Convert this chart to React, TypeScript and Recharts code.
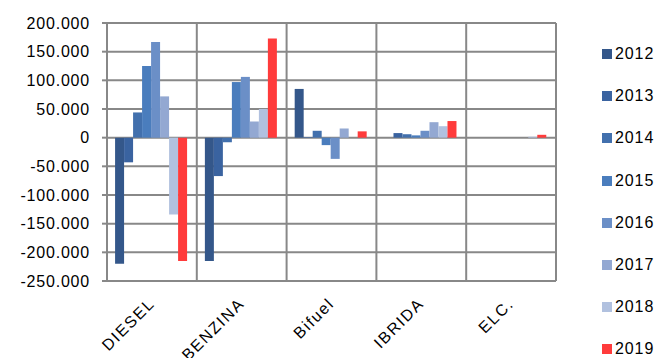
import React from 'react';
import { BarChart, Bar, XAxis, YAxis, CartesianGrid } from 'recharts';

const categories = ['DIESEL', 'BENZINA', 'Bifuel', 'IBRIDA', 'ELC.'];
const years = ['2012', '2013', '2014', '2015', '2016', '2017', '2018', '2019'];
const colors = ['#34578a', '#3a63a0', '#4270ad', '#4a7dbd', '#6b8fc7', '#93a8d2', '#b1c1df', '#ff3b3b'];

const v2012 = [-220000, -215000, 85000, 0, 0];
const v2013 = [-43000, -67000, 1000, 8000, 0];
const v2014 = [44000, -8000, 12000, 6000, 0];
const v2015 = [125000, 97000, -13000, 4000, 0];
const v2016 = [167000, 106000, -37000, 12000, 0];
const v2017 = [72000, 28000, 16000, 27000, 0];
const v2018 = [-134000, 50000, 0, 20000, 1500];
const v2019 = [-215000, 173000, 11000, 29000, 5000];

const yTicks = [200000, 150000, 100000, 50000, 0, -50000, -100000, -150000, -200000, -250000];

const series = [v2012, v2013, v2014, v2015, v2016, v2017, v2018, v2019];
const data = categories.map((name, i) => {
  const row: Record<string, any> = { name };
  years.forEach((y, k) => { row[y] = series[k][i]; });
  return row;
});

const FONT = '"Liberation Sans", Arial, sans-serif';
const GRID = '#888888';

const fmt = (v: number) => (v === 0 ? '0' : v.toLocaleString('de-DE'));

function CatTick({ x, y, payload }: any) {
  return (
    <g transform={`translate(${x - 2},${y + 10})`}>
      <text
        x={0}
        y={0}
        dy={8}
        textAnchor="end"
        transform="rotate(-45)"
        fill="#000"
        fontSize={16}
        fontFamily={FONT}
        letterSpacing={1.6}
      >
        {payload.value}
      </text>
    </g>
  );
}

export default function App() {
  return (
    <div style={{ position: 'absolute', left: 0, top: 0, width: 659, height: 358, background: '#fff' }}>
      <BarChart
        width={659}
        height={358}
        data={data}
        margin={{ top: 23, right: 103, bottom: 0, left: 0 }}
        barCategoryGap="9%"
        barGap={0}
      >
        <CartesianGrid
          stroke={GRID}
          strokeWidth={2}
          verticalCoordinatesGenerator={({ offset }: any) =>
            categories.map((_, i) => offset.left + (i * offset.width) / categories.length).concat(offset.left + offset.width)
          }
        />
        <XAxis
          dataKey="name"
          height={77}
          axisLine={{ stroke: GRID, strokeWidth: 2 }}
          tickLine={false}
          tick={<CatTick />}
          interval={0}
        />
        <YAxis
          width={107}
          domain={[-250000, 200000]}
          ticks={yTicks}
          interval={0}
          tickFormatter={fmt}
          axisLine={{ stroke: GRID, strokeWidth: 2 }}
          tickLine={{ stroke: GRID, strokeWidth: 2 }}
          tickSize={5}
          tickMargin={12}
          tick={{ fill: '#000', fontSize: 16, fontFamily: FONT, letterSpacing: 0.8 }}
        />
        {years.map((y, k) => (
          <Bar key={y} dataKey={y} fill={colors[k]} isAnimationActive={false} />
        ))}
      </BarChart>
      <div style={{ position: 'absolute', left: 602, top: 33, fontFamily: FONT, fontSize: 16 }}>
        {years.map((y, k) => (
          <div key={y} style={{ display: 'flex', alignItems: 'center', height: 42.2 }}>
            <span style={{ width: 10, height: 10, background: colors[k], display: 'inline-block', marginRight: 3 }} />
            <span style={{ letterSpacing: 0.9, color: '#000', lineHeight: '18px' }}>{y}</span>
          </div>
        ))}
      </div>
    </div>
  );
}
